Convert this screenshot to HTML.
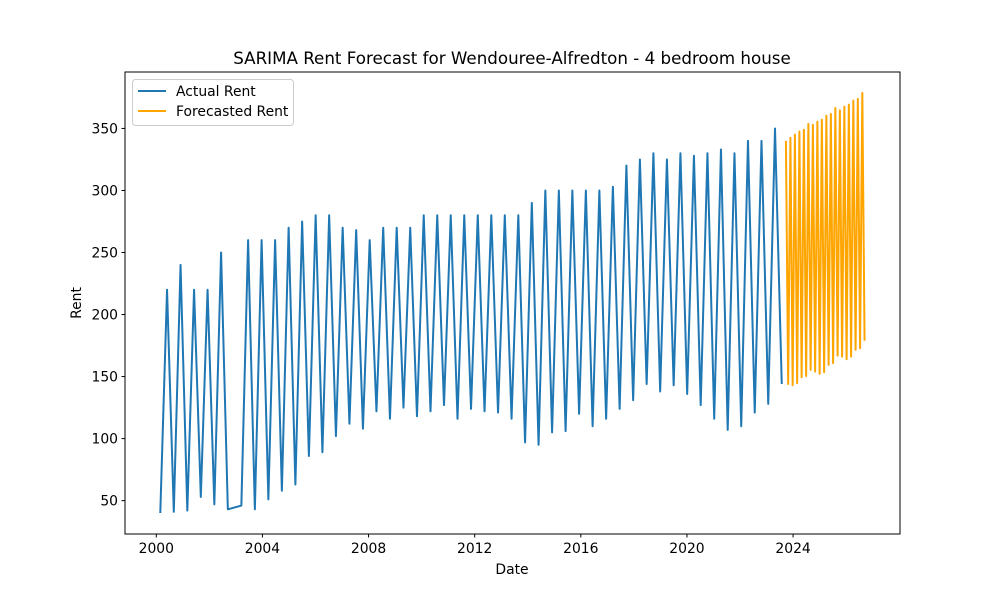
<!DOCTYPE html>
<html><head><meta charset="utf-8"><style>
body{margin:0;background:#fff;}
svg{display:block;font-family:"DejaVu Sans","Liberation Sans",sans-serif;}
</style></head><body>
<svg id="chart" width="1000" height="600">
<rect width="1000" height="600" fill="#fff"/>
<text x="512" y="64" font-size="16.7" text-anchor="middle">SARIMA Rent Forecast for Wendouree-Alfredton - 4 bedroom house</text>
<g id="grid"></g>
<g id="series"></g>
<rect x="125" y="72" width="775" height="462" fill="none" stroke="#000" stroke-width="1"/>
<g id="axes"></g>
<text x="512" y="574" font-size="13.9" text-anchor="middle">Date</text>
<text x="0" y="0" font-size="13.9" text-anchor="middle" transform="translate(81,303) rotate(-90)">Rent</text>
<g>
<rect x="132.5" y="79.5" width="161" height="46" rx="3" fill="#fff" fill-opacity="0.8" stroke="#ccc"/>
<g>
<line x1="138" y1="91" x2="166" y2="91" stroke="#1f77b4" stroke-width="2"/>
<text x="176" y="96" font-size="13.9">Actual Rent</text></g>
<g>
<line x1="138" y1="111" x2="166" y2="111" stroke="#ffa500" stroke-width="2"/>
<text x="176" y="116" font-size="13.9">Forecasted Rent</text></g>
</g>
</svg>
<script>
const actualQuarterIdx = [0,1,2,3,4,5,6,7,8,9,10,12,13,14,15,16,17,18,19,20,21,22,23,24,25,26,27,28,29,30,31,32,33,34,35,36,37,38,39,40,41,42,43,44,45,46,47,48,49,50,51,52,53,54,55,56,57,58,59,60,61,62,63,64,65,66,67,68,69,70,71,72,73,74,75,76,77,78,79,80,81,82,83,84,85,86,87,88,89,90,91,92];
const actualValues = [40,220,41,240,42,220,53,220,47,250,43,46,260,43,260,51,260,58,270,63,275,86,280,89,280,102,270,112,268,108,260,122,270,116,270,125,270,118,280,122,280,127,280,116,280,124,280,122,280,121,280,116,280,97,290,95,300,105,300,106,300,120,300,110,300,116,303,124,320,131,325,144,330,138,325,143,330,136,328,127,330,116,333,107,330,110,340,121,340,128,350,144];
const actualStart = 2000.15, actualStep = 0.2546;
const forecastPeaks = [340,342.5,345,347.5,349,353.7,353,355.5,357,360.3,361.7,366.5,364.6,367.6,369.2,372.4,373.8,378.6];
const forecastTroughs = [144,143,144.7,149.5,150.5,155.4,154,152.2,153.5,159.4,160.8,166.9,166.1,164,166.1,171.5,172.8,178.9];
const forecastStart = 2023.73, forecastStep = 0.0847;
const xTicks = [2000,2004,2008,2012,2016,2020,2024];
const yTicks = [50,100,150,200,250,300,350];

const X0=125,X1=900,Y0=72,Y1=534, xMin=1998.82,xMax=2028.03,yMin=23.1,yMax=395.5;
const xs=v=>X0+(v-xMin)/(xMax-xMin)*(X1-X0);
const ys=v=>Y1-(v-yMin)/(yMax-yMin)*(Y1-Y0);
const NS="http://www.w3.org/2000/svg";
const axes=document.getElementById('axes'), series=document.getElementById('series');
function mk(t,a,p){const e=document.createElementNS(NS,t);for(const k in a)e.setAttribute(k,a[k]);p.appendChild(e);return e;}
xTicks.forEach(t=>{const x=xs(t);
 const l=mk('line',{x1:x,x2:x,y1:Y1,y2:Y1+3.5,stroke:'#000'},axes);
 
 
 const tx=mk('text',{x:x,y:Y1+19,'font-size':13.9,'text-anchor':'middle'},axes);tx.textContent=t;
 
 });
yTicks.forEach(t=>{const y=ys(t);
 const l=mk('line',{x1:X0-3.5,x2:X0,y1:y,y2:y,stroke:'#000'},axes);
 
 
 const tx=mk('text',{x:X0-7,y:y+5,'font-size':13.9,'text-anchor':'end'},axes);tx.textContent=t;
 
 });
const ap=actualValues.map((v,i)=>xs(actualStart+actualQuarterIdx[i]*actualStep).toFixed(2)+','+ys(v).toFixed(2));
const pa=mk('polyline',{points:ap.join(' '),fill:'none',stroke:'#1f77b4','stroke-width':2,'stroke-linejoin':'round'},series);


const fp=[];forecastPeaks.forEach((v,i)=>{
 fp.push(xs(forecastStart+(2*i)*forecastStep).toFixed(2)+','+ys(v).toFixed(2));
 fp.push(xs(forecastStart+(2*i+1)*forecastStep).toFixed(2)+','+ys(forecastTroughs[i]).toFixed(2));});
const pf=mk('polyline',{points:fp.join(' '),fill:'none',stroke:'#ffa500','stroke-width':2,'stroke-linejoin':'round'},series);


</script>
</body></html>
